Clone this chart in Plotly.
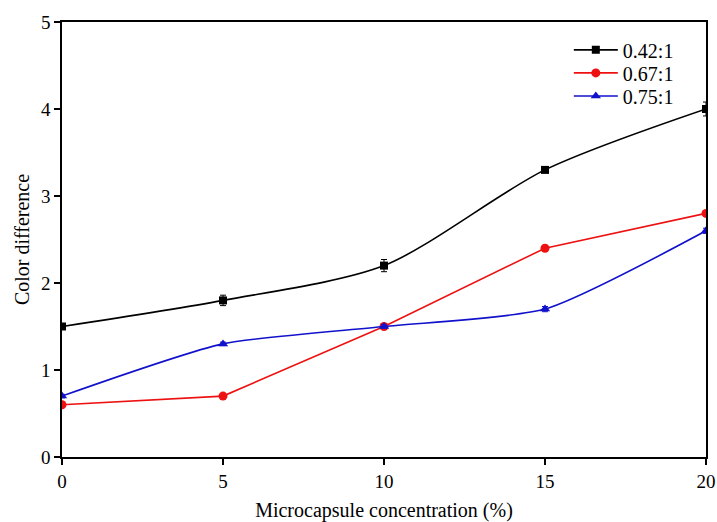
import plotly.graph_objects as go

x = [0, 5, 10, 15, 20]
names = ["0.42:1", "0.67:1", "0.75:1"]
y042 = [1.5, 1.8, 2.2, 3.3, 4.0]
err042 = [0.03, 0.06, 0.07, 0.03, 0.08]
y067 = [0.6, 0.7, 1.5, 2.4, 2.8]
err067 = [0.02, 0.02, 0.02, 0.03, 0.03]
y075 = [0.7, 1.3, 1.5, 1.7, 2.6]
err075 = [0.02, 0.02, 0.02, 0.03, 0.03]

fig = go.Figure()
fig.add_trace(go.Scatter(
    x=x, y=y042, name=names[0], mode="lines+markers", legend="legend",
    line=dict(color="black", width=1.6, shape="spline", smoothing=0.8),
    marker=dict(symbol="square", size=8, color="black"),
    error_y=dict(type="data", array=err042, color="black", thickness=1, width=3),
))
fig.add_trace(go.Scatter(
    x=x, y=y067, name=names[1], mode="lines+markers", legend="legend2",
    line=dict(color="#ee1111", width=1.6),
    marker=dict(symbol="circle", size=9, color="#ee1111"),
    error_y=dict(type="data", array=err067, color="#ee1111", thickness=1, width=3),
))
fig.add_trace(go.Scatter(
    x=x, y=y075, name=names[2], mode="lines+markers", legend="legend3",
    line=dict(color="#1111cc", width=1.6, shape="spline", smoothing=0.6),
    marker=dict(symbol="triangle-up", size=9, color="#1111cc"),
    error_y=dict(type="data", array=err075, color="#1111cc", thickness=1, width=3),
))

font = "Liberation Serif"
leg = dict(x=0.787, xanchor="left", yanchor="middle",
           font=dict(family=font, size=20), bgcolor="rgba(0,0,0,0)", itemwidth=44)
fig.update_layout(
    width=717, height=522,
    margin=dict(l=62, r=11, t=22, b=65),
    paper_bgcolor="white", plot_bgcolor="white",
    font=dict(family=font, size=17, color="black"),
    showlegend=True,
    legend=dict(leg, y=0.936),
    legend2=dict(leg, y=0.883),
    legend3=dict(leg, y=0.830),
)
fig.update_xaxes(
    range=[0, 20], tickvals=[0, 5, 10, 15, 20], showgrid=False, zeroline=False,
    showline=True, linecolor="black", linewidth=1.5, mirror=True, automargin=False,
    ticks="outside", ticklen=6, tickwidth=1.5, tickcolor="black",
    title=dict(text="Microcapsule concentration (%)", font=dict(family=font, size=20), standoff=14),
    tickfont=dict(family=font, size=19),
)
fig.update_yaxes(
    range=[0, 5], tickvals=[0, 1, 2, 3, 4, 5], showgrid=False, zeroline=False,
    showline=True, linecolor="black", linewidth=1.5, mirror=True, automargin=False,
    ticks="outside", ticklen=6, tickwidth=1.5, tickcolor="black",
    title=dict(text="Color difference", font=dict(family=font, size=20), standoff=6),
    tickfont=dict(family=font, size=19),
)
fig.write_html("out.html")
